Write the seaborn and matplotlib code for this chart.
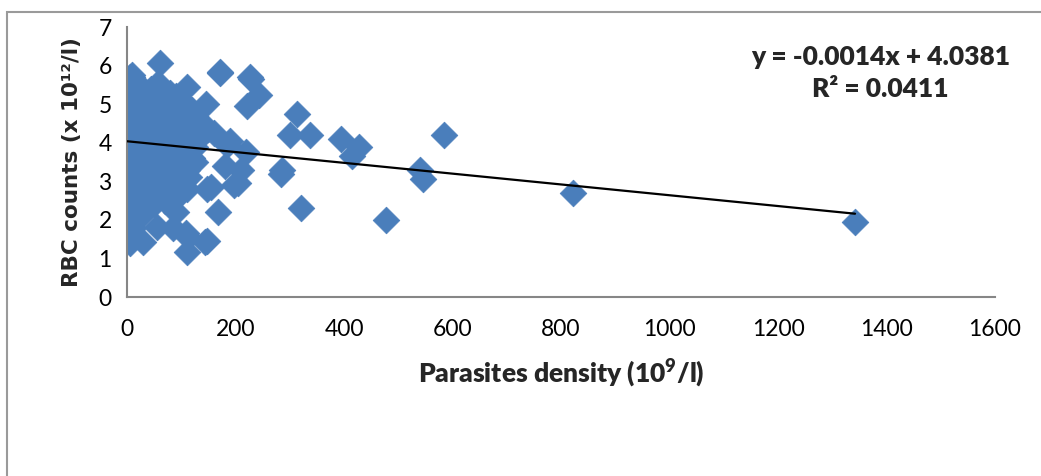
import numpy as np
import pandas as pd
import seaborn as sns
import matplotlib
matplotlib.use("Agg")
import matplotlib.pyplot as plt
from matplotlib.patches import Rectangle

# ---- data ----
dense_rows = {
    5.70: [5, 10],
    5.50: [3, 15, 57],
    5.40: [20, 30, 45],
    5.30: [5, 25, 40, 65, 80],
    5.20: [0, 12, 35, 55, 75, 90],
    5.10: [2, 20, 45, 62, 85, 100],
    5.00: [0, 8, 30, 50, 70, 95],
    4.90: [4, 18, 40, 60, 80, 105],
    4.80: [0, 25, 50, 70, 90, 110],
    4.70: [6, 35, 55, 75, 100, 125],
    4.60: [0, 15, 45, 65, 85, 115],
    4.50: [3, 28, 50, 72, 95, 130],
    4.40: [0, 12, 40, 60, 80, 120],
    4.30: [5, 22, 48, 70, 140],
    4.20: [0, 18, 35, 55, 75, 115],
    4.10: [2, 30, 50, 85, 100, 130],
    4.00: [0, 12, 40, 65, 90, 110],
    3.90: [5, 25, 55, 78, 100, 125],
    3.80: [0, 15, 45, 68, 95, 115],
    3.70: [3, 35, 60, 85, 105],
    3.60: [0, 20, 50, 75, 100, 120],
    3.50: [8, 30, 60, 90, 125],
    3.40: [0, 15, 45, 70, 100],
    3.30: [5, 35, 55, 85, 110],
    3.20: [0, 20, 48, 75, 95],
    3.10: [10, 30, 60, 90, 115],
    3.00: [0, 25, 50, 80, 105],
    2.90: [5, 40, 65, 95],
    2.80: [15, 30, 55, 85, 110],
    2.70: [0, 45, 70, 100],
    2.60: [8, 25, 60, 90],
    2.50: [0, 35, 70],
    2.40: [5, 20, 50],
}
dense_x = [x for y, xs in dense_rows.items() for x in xs]
dense_y = [y for y, xs in dense_rows.items() for x in xs]

sparse_x = [1342, 823, 585, 540, 545, 478, 428, 415, 395, 338, 300, 313, 320,
            285, 283, 243, 228, 222, 220, 210, 205, 198, 190, 185, 180, 172,
            168, 160, 150, 155, 148, 145, 148, 110, 120, 110, 112, 108, 61,
            9, 57, 24, 90, 5, 28, 11, 55, 85, 6, 29, 143, 171, 227]
sparse_y = [1.95, 2.70, 4.20, 3.30, 3.05, 2.00, 3.90, 3.65, 4.10, 4.20, 4.20, 4.75, 2.30,
            3.30, 3.20, 5.25, 5.65, 4.95, 3.75, 3.30, 2.95, 2.90, 4.05, 3.95, 3.40, 5.80,
            2.20, 4.25, 4.35, 2.85, 2.80, 5.00, 1.45, 5.45, 4.85, 1.17, 1.55, 1.65, 6.07,
            5.75, 5.55, 2.17, 2.20, 2.05, 2.13, 1.78, 1.82, 1.79, 1.40, 1.43, 1.43, 5.83, 5.70]

parasite_density = dense_x + sparse_x
rbc_counts = dense_y + sparse_y

slope = -0.0014
intercept = 4.0381
r_squared = 0.0411

x_ticks = [0, 200, 400, 600, 800, 1000, 1200, 1400, 1600]
y_ticks = [0, 1, 2, 3, 4, 5, 6, 7]

df = pd.DataFrame({"x": parasite_density, "y": rbc_counts})

# ---- figure ----
sns.set_style("white")
plt.rcParams["font.family"] = ["Lato", "DejaVu Sans"]
plt.rcParams["mathtext.fontset"] = "custom"
plt.rcParams["mathtext.rm"] = "Lato"
plt.rcParams["mathtext.bf"] = "Lato:heavy"

W, H = 1041, 476
fig = plt.figure(figsize=(W / 100, H / 100), dpi=100)
ax = fig.add_axes([127 / W, 1 - 297 / H, (995 - 127) / W, (297 - 27) / H])

sns.scatterplot(data=df, x="x", y="y", ax=ax, marker="D", s=185,
                color="#4a7ebb", edgecolor="#4a7ebb", linewidth=0.5, zorder=2)

xl = np.array([0, max(parasite_density)])
ax.plot(xl, slope * xl + intercept, color="black", lw=1.6, zorder=3)

ax.set_xlim(0, 1600)
ax.set_ylim(0, 7)
ax.set_xticks(x_ticks)
ax.set_yticks(y_ticks)
ax.tick_params(axis="both", direction="out", length=6, width=1.5,
               color="#868686", labelsize=16.5, labelcolor="black")
ax.tick_params(axis="x", pad=10)
ax.tick_params(axis="y", pad=5)
for s in ["top", "right"]:
    ax.spines[s].set_visible(False)
for s in ["left", "bottom"]:
    ax.spines[s].set_color("#868686")
    ax.spines[s].set_linewidth(1.5)

ax.set_xlabel(r"Parasites density (10$^{\mathbf{9}}$/l)", fontsize=19, fontweight="heavy",
              labelpad=12)
ax.set_ylabel("RBC counts (x 10¹²/l)", fontsize=15.5, fontweight="bold",
              family=["DejaVu Sans"], labelpad=12)

fig.text(881 / W, 1 - 57 / H, f"y = {slope}x + {intercept}", ha="center", va="center",
         fontsize=19, fontweight="heavy")
fig.text(880 / W, 1 - 89 / H, f"R² = {r_squared}", ha="center", va="center",
         fontsize=19, fontweight="heavy")

fig.patches.append(Rectangle((7 / W, -0.1), 1.2, 1 - 12 / H + 0.1, transform=fig.transFigure,
                             fill=False, edgecolor="#9a9a9a", lw=1.5))

fig.savefig("out.png", dpi=100)
